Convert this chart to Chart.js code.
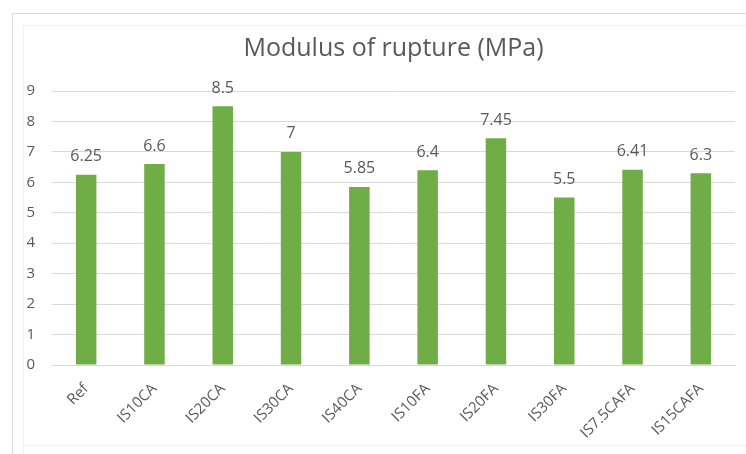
<!DOCTYPE html>
<html>
<head>
<meta charset="utf-8">
<title>Modulus of rupture (MPa)</title>
<script src="https://cdn.jsdelivr.net/npm/chart.js@4.4.1/dist/chart.umd.min.js"></script>
<style>
  html, body { margin: 0; padding: 0; background: #ffffff; }
  #wrap { position: relative; width: 746px; height: 454px; }
</style>
</head>
<body>
<div id="wrap"><canvas id="chart" width="746" height="454"></canvas></div>
<script>
// Mix designs and their modulus of rupture (MPa)
const categories = ['Ref', 'IS10CA', 'IS20CA', 'IS30CA', 'IS40CA', 'IS10FA', 'IS20FA', 'IS30FA', 'IS7.5CAFA', 'IS15CAFA'];
const ruptureValues = [6.25, 6.6, 8.5, 7, 5.85, 6.4, 7.45, 5.5, 6.41, 6.3];
const valueLabels = ['6.25', '6.6', '8.5', '7', '5.85', '6.4', '7.45', '5.5', '6.41', '6.3'];
const yTicks = [0, 1, 2, 3, 4, 5, 6, 7, 8, 9];

const FONT = "'Open Sans', 'DejaVu Sans', sans-serif";
const TEXT_GREY = '#595959';
const GRID_GREY = '#d9d9d9';

// Chart frame: outer border plus a faint inner plot frame
const framePlugin = {
  id: 'frame',
  beforeDraw(chart) {
    const ctx = chart.ctx;
    ctx.save();
    ctx.fillStyle = '#ffffff';
    ctx.fillRect(0, 0, chart.width, chart.height);
    ctx.strokeStyle = '#f1f1f1';
    ctx.lineWidth = 1;
    ctx.beginPath();
    ctx.moveTo(23.5, chart.height);
    ctx.lineTo(23.5, 25.5);
    ctx.lineTo(chart.width, 25.5);
    ctx.moveTo(23.5, 445.5);
    ctx.lineTo(chart.width, 445.5);
    ctx.stroke();
    ctx.strokeStyle = GRID_GREY;
    ctx.beginPath();
    ctx.moveTo(12.5, chart.height);
    ctx.lineTo(12.5, 13.5);
    ctx.lineTo(chart.width, 13.5);
    ctx.stroke();
    ctx.restore();
  }
};

// Value labels printed above each bar
const valueLabelPlugin = {
  id: 'valueLabels',
  afterDatasetsDraw(chart) {
    const ctx = chart.ctx;
    const meta = chart.getDatasetMeta(0);
    ctx.save();
    ctx.font = '16px ' + FONT;
    ctx.fillStyle = TEXT_GREY;
    ctx.textAlign = 'center';
    ctx.textBaseline = 'middle';
    meta.data.forEach((bar, i) => {
      ctx.fillText(valueLabels[i], bar.x, bar.y - 18);
    });
    ctx.restore();
  }
};

new Chart(document.getElementById('chart'), {
  type: 'bar',
  data: {
    labels: categories,
    datasets: [{
      data: ruptureValues,
      backgroundColor: '#70ad47',
      borderWidth: 0,
      categoryPercentage: 1.0,
      barPercentage: 0.3
    }]
  },
  options: {
    responsive: false,
    animation: false,
    layout: { padding: { left: 0, right: 11, top: 0, bottom: 0 } },
    plugins: {
      legend: { display: false },
      tooltip: { enabled: false },
      title: {
        display: true,
        fullSize: false,
        text: 'Modulus of rupture (MPa)',
        color: TEXT_GREY,
        font: { family: FONT, size: 25, weight: 'normal', lineHeight: 1.2 },
        padding: { top: 34, bottom: 27 }
      }
    },
    scales: {
      x: {
        grid: { display: false, drawTicks: false },
        border: { display: true, color: GRID_GREY },
        ticks: {
          color: TEXT_GREY,
          font: { family: FONT, size: 15 },
          minRotation: 45,
          maxRotation: 45,
          padding: 15
        },
        afterFit(scale) { scale.height = 89; }
      },
      y: {
        min: 0,
        max: 9,
        grid: { color: GRID_GREY, lineWidth: 1, drawTicks: false },
        border: { display: false },
        afterBuildTicks(scale) { scale.ticks = yTicks.map(v => ({ value: v })); },
        ticks: {
          color: TEXT_GREY,
          font: { family: FONT, size: 15 },
          padding: 17
        },
        afterFit(scale) { scale.width = 52; }
      }
    }
  },
  plugins: [framePlugin, valueLabelPlugin]
});
</script>
</body>
</html>
